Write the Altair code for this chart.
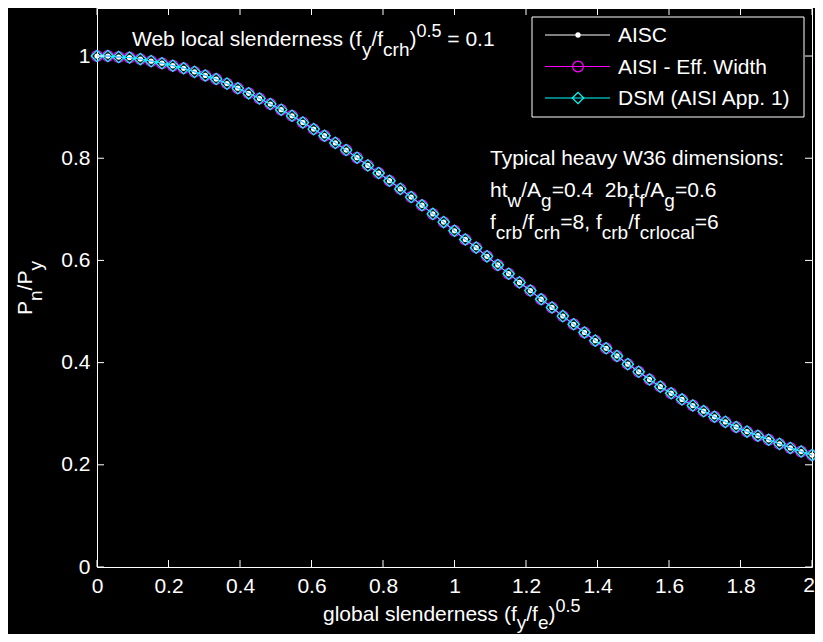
import altair as alt
import pandas as pd

FONT = "Liberation Sans"

# ---------------- data ----------------
series_names = ["AISC", "AISI - Eff. Width", "DSM (AISI App. 1)"]

x_vals = [0.0, 0.0303, 0.0606, 0.0909, 0.1212, 0.1515, 0.1818, 0.2121, 0.2424, 0.2727,
          0.3030, 0.3333, 0.3636, 0.3939, 0.4242, 0.4545, 0.4848, 0.5152, 0.5455, 0.5758,
          0.6061, 0.6364, 0.6667, 0.6970, 0.7273, 0.7576, 0.7879, 0.8182, 0.8485, 0.8788,
          0.9091, 0.9394, 0.9697, 1.0, 1.0303, 1.0606, 1.0909, 1.1212, 1.1515, 1.1818,
          1.2121, 1.2424, 1.2727, 1.3030, 1.3333, 1.3636, 1.3939, 1.4242, 1.4545, 1.4848,
          1.5152, 1.5455, 1.5758, 1.6061, 1.6364, 1.6667, 1.6970, 1.7273, 1.7576, 1.7879,
          1.8182, 1.8485, 1.8788, 1.9091, 1.9394, 1.9697, 2.0]

aisc = [1.000, 1.000, 0.998, 0.997, 0.994, 0.990, 0.986, 0.981, 0.976, 0.969,
        0.962, 0.955, 0.946, 0.937, 0.927, 0.917, 0.906, 0.895, 0.883, 0.870,
        0.857, 0.844, 0.830, 0.816, 0.801, 0.786, 0.771, 0.756, 0.740, 0.724,
        0.708, 0.691, 0.675, 0.658, 0.641, 0.625, 0.608, 0.591, 0.574, 0.557,
        0.541, 0.524, 0.508, 0.491, 0.475, 0.459, 0.443, 0.428, 0.413, 0.397,
        0.382, 0.367, 0.353, 0.340, 0.328, 0.316, 0.305, 0.294, 0.284, 0.274,
        0.265, 0.257, 0.249, 0.241, 0.233, 0.226, 0.219]
# the three curves lie on top of each other in the picture
aisi_eff_width = list(aisc)
dsm = list(aisc)

x_ticks = [0, 0.2, 0.4, 0.6, 0.8, 1, 1.2, 1.4, 1.6, 1.8, 2]
y_ticks = [0, 0.2, 0.4, 0.6, 0.8, 1]

rows = []
for name, ys_ in zip(series_names, [aisc, aisi_eff_width, dsm]):
    for xv, yv in zip(x_vals, ys_):
        rows.append({"series": name, "x": xv, "y": yv})
df = pd.DataFrame(rows)
one = pd.DataFrame({"k": [0]})

# ---------------- layout ----------------
W, H = 715, 559
TICK = 7
xs = alt.Scale(domain=[0, 2], nice=False, zero=False)
ys = alt.Scale(domain=[0, 1.094], nice=False, zero=False)

# the last x label ("2") is drawn separately so it stays inside the page
x_axis = alt.Axis(
    values=x_ticks[:-1], title=None, format="~g", labelFlush=False, labelOverlap=False,
    grid=False, domain=False, ticks=False, labelPadding=8, labelFontSize=21,
    labelColor="white", labelFont=FONT)
y_axis = alt.Axis(
    values=y_ticks, title=None, format="~g", labelFlush=False, labelOverlap=False,
    grid=False, domain=False, ticks=False, labelPadding=7, labelFontSize=21,
    labelColor="white", labelFont=FONT)

x_enc = alt.X("x:Q", scale=xs, axis=x_axis)
y_enc = alt.Y("y:Q", scale=ys, axis=y_axis)

colors = {"AISC": "#ffffff", "AISI - Eff. Width": "#ff00ff", "DSM (AISI App. 1)": "#00ffff"}

def series_layers(name, point_kw):
    b = alt.Chart(df).transform_filter(alt.datum.series == name)
    line = b.mark_line(color=colors[name], strokeWidth=1).encode(x=x_enc, y=y_enc)
    pts = b.mark_point(color=colors[name], opacity=1, **point_kw).encode(x=x_enc, y=y_enc)
    return [line, pts]

pt_styles = [
    dict(shape="circle", filled=True, size=28),
    dict(shape="circle", filled=False, size=115, strokeWidth=1.2),
    dict(shape="diamond", filled=False, size=130, strokeWidth=1.2),
]

layers = []
for name, st in zip(series_names, pt_styles):
    layers += series_layers(name, st)

# inward ticks on all four sides (same axis definition so the shared axis is kept)
xt = alt.Chart(pd.DataFrame({"t": x_ticks}))
yt = alt.Chart(pd.DataFrame({"t": y_ticks}))
layers.append(xt.mark_rule(color="white", strokeWidth=1).encode(
    x=alt.X("t:Q", scale=xs, axis=x_axis), y=alt.value(H), y2=alt.value(H - TICK)))
layers.append(xt.mark_rule(color="white", strokeWidth=1).encode(
    x=alt.X("t:Q", scale=xs, axis=x_axis), y=alt.value(0), y2=alt.value(TICK)))
layers.append(yt.mark_rule(color="white", strokeWidth=1).encode(
    y=alt.Y("t:Q", scale=ys, axis=y_axis), x=alt.value(0), x2=alt.value(TICK)))
layers.append(yt.mark_rule(color="white", strokeWidth=1).encode(
    y=alt.Y("t:Q", scale=ys, axis=y_axis), x=alt.value(W - TICK), x2=alt.value(W)))

# last x tick label
last_lab = pd.DataFrame({"t": x_ticks[-1:], "lab": ["2"]})
layers.append(alt.Chart(last_lab).mark_text(
    fontSize=21, font=FONT, color="white", align="center", baseline="top", dx=-3).encode(
    x=alt.X("t:Q", scale=xs, axis=x_axis), y=alt.value(H + 8), text="lab:N"))

# ---------------- rich text helper (sub/superscripts) ----------------
AW = {" ": 278, "(": 333, ")": 333, "/": 278, ".": 278, "=": 584, ",": 278, ":": 278, "-": 333,
      "a": 556, "b": 556, "c": 500, "d": 556, "e": 556, "f": 278, "g": 556, "h": 556, "i": 222,
      "j": 222, "k": 500, "l": 222, "m": 833, "n": 556, "o": 556, "p": 556, "q": 556, "r": 333,
      "s": 500, "t": 278, "u": 556, "v": 500, "w": 722, "x": 500, "y": 500, "z": 500,
      "A": 667, "P": 667, "T": 611, "W": 944}
for d in "0123456789":
    AW[d] = 556

SIZE = {"n": 21, "sub": 19, "sup": 18}

def tw(s, fs):
    return sum(AW.get(ch, 556) for ch in s) * fs / 1000.0

def rich(runs, x0, y0, rotate=False, sub=10, sup=-9):
    shift = {"n": 0, "sub": sub, "sup": sup}
    out = []
    pos = 0.0
    for text, kind in runs:
        fs = SIZE[kind]
        lead = len(text) - len(text.lstrip(" "))
        trail = len(text) - len(text.rstrip(" "))
        pos += lead * 0.278 * fs
        t = text.strip(" ")
        if rotate:
            px, py = x0 + shift[kind], y0 - pos
            ch = alt.Chart(one).mark_text(text=t, fontSize=fs, font=FONT, color="white",
                                          align="left", baseline="alphabetic", angle=270)
        else:
            px, py = x0 + pos, y0 + shift[kind]
            ch = alt.Chart(one).mark_text(text=t, fontSize=fs, font=FONT, color="white",
                                          align="left", baseline="alphabetic")
        out.append(ch.encode(x=alt.value(px), y=alt.value(py)))
        pos += tw(t, fs) + trail * 0.278 * fs
    return out

# top annotation
layers += rich([("Web local slenderness (f", "n"), ("y", "sub"), ("/f", "n"), ("crh", "sub"),
                (")", "n"), ("0.5", "sup"), (" = 0.1", "n")], 35, 38)
# right annotation block
layers += rich([("Typical heavy W36 dimensions:", "n")], 393, 157)
layers += rich([("ht", "n"), ("w", "sub"), ("/A", "n"), ("g", "sub"), ("=0.4  ", "n"),
                ("2b", "n"), ("f", "sub"), ("t", "n"), ("f", "sub"), ("/A", "n"), ("g", "sub"),
                ("=0.6", "n")], 393, 189)
layers += rich([("f", "n"), ("crb", "sub"), ("/f", "n"), ("crh", "sub"), ("=8, f", "n"),
                ("crb", "sub"), ("/f", "n"), ("crlocal", "sub"), ("=6", "n")], 393, 221)
# axis titles
layers += rich([("global slenderness (f", "n"), ("y", "sub"), ("/f", "n"), ("e", "sub"),
                (")", "n"), ("0.5", "sup")], 226, 613, sub=8, sup=-9)
layers += rich([("P", "n"), ("n", "sub"), ("/P", "n"), ("y", "sub")], -65, 307, rotate=True)

# ---------------- legend box ----------------
LX0, LX1, LY0, LY1 = 435, 707, 9, 109
layers.append(alt.Chart(one).mark_rect(fill="black", stroke="white", strokeWidth=1).encode(
    x=alt.value(LX0), x2=alt.value(LX1), y=alt.value(LY0), y2=alt.value(LY1)))
for name, st, ry in zip(series_names, pt_styles, [27, 58.5, 90]):
    layers.append(alt.Chart(one).mark_rule(color=colors[name], strokeWidth=1).encode(
        x=alt.value(448), x2=alt.value(513), y=alt.value(ry)))
    layers.append(alt.Chart(one).mark_point(color=colors[name], opacity=1, **st).encode(
        x=alt.value(481), y=alt.value(ry)))
    layers.append(alt.Chart(one).mark_text(text=name, fontSize=21, font=FONT, color="white",
                                           align="left", baseline="middle").encode(
        x=alt.value(521), y=alt.value(ry + 1)))

chart = alt.layer(*layers).properties(
    width=W, height=H,
    padding={"left": 89, "top": 0, "right": 3, "bottom": 67},
    autosize=alt.AutoSizeParams(type="none"),
    background="black",
    usermeta={"embedOptions": {"defaultStyle": "body{background:#000;}"}},
).configure_view(stroke="white", strokeWidth=1)

chart.save("out.html", embed_options={"renderer": "svg", "actions": False})
